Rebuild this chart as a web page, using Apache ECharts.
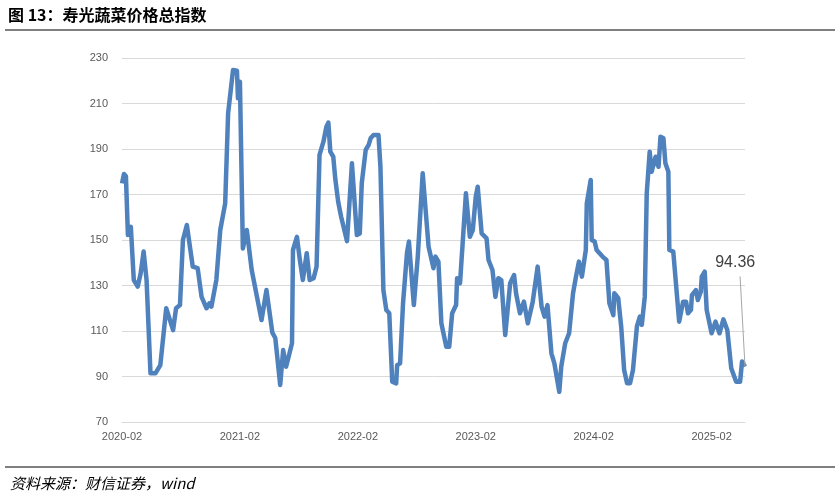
<!DOCTYPE html>
<html><head><meta charset="utf-8">
<script src="https://cdn.jsdelivr.net/npm/echarts@6/dist/echarts.min.js"></script>
<style>html,body{margin:0;padding:0;background:#fff}#c{width:840px;height:498px}</style>
</head><body><div id="c"></div>
<script>
// x = months since 2020-02
const months = [0,0.2,0.4,0.6,0.9,1.2,1.6,1.9,2.2,2.5,2.9,3.4,3.9,4.0,4.5,5.2,5.5,5.9,6.2,6.6,7.2,7.7,8.1,8.6,8.9,9.1,9.6,10.0,10.5,10.8,11.3,11.7,11.8,12.0,12.3,12.7,13.2,13.4,14.2,14.7,15.3,15.6,16.1,16.4,16.7,17.3,17.4,17.8,18.1,18.4,18.8,19.1,19.5,19.8,20.1,20.5,20.8,21.0,21.2,21.5,21.7,22.0,22.3,22.5,22.9,23.0,23.4,23.9,24.2,24.4,24.8,25.1,25.3,25.6,26.1,26.3,26.6,26.9,27.2,27.5,27.9,28.0,28.3,28.6,29.0,29.2,29.7,30.1,30.6,30.8,31.2,31.7,31.9,32.2,32.5,33.0,33.3,33.6,34.0,34.1,34.4,35.0,35.4,35.7,36.0,36.2,36.6,37.1,37.3,37.7,38.0,38.3,38.6,39.0,39.2,39.5,39.9,40.1,40.5,40.9,41.3,41.8,42.3,42.7,43.0,43.3,43.7,44.0,44.5,44.7,45.1,45.5,45.9,46.2,46.5,46.8,47.2,47.3,47.7,47.8,48.1,48.3,48.5,48.9,49.3,49.6,50.0,50.1,50.5,50.8,51.1,51.4,51.7,52.0,52.4,52.7,52.9,53.2,53.4,53.7,53.9,54.3,54.6,54.8,55.1,55.3,55.6,55.7,56.1,56.7,57.1,57.4,57.6,57.9,58.0,58.4,58.6,58.9,59.0,59.3,59.5,60.0,60.4,60.8,61.2,61.6,62.0,62.5,62.9,63.1,63.4];
const values = [174.9,179,178,152.2,155.8,132.4,129.5,135.4,144.9,132.4,91.4,91.4,95,95.8,120,110.4,120,121.4,150,156.6,138.3,137.6,125,120,122.2,120.7,132.4,154.4,166.1,205.7,224.7,224.4,212.3,219.6,146.3,154.4,136.8,136.1,114.8,128,109.3,106.9,86.3,101.6,94.3,104.6,145.6,151.4,141.2,132.4,144.2,132.4,133.2,138.3,187.4,193.2,199.8,201.6,188.8,186.6,177.1,166.8,160.2,159.5,149.5,148.7,183.7,152.2,152.9,174.9,189.6,191.8,194.7,196.2,196.2,182.2,128,119.2,117.8,87.7,87,95,95.8,122.2,144.2,149.3,121.4,142.7,179.3,179.3,147,137.6,142.7,140.5,113.4,103.1,103.1,117.8,121.4,133.2,131,170.5,151.4,154.4,169,173.4,152.9,150.7,141.2,136.8,125,133.2,132.4,108.2,108.2,131,134.6,126.6,117.8,122.9,113.4,122.9,138.3,120.7,116.3,121.4,100.2,95.8,83.3,94.3,104.6,109,126.6,133.9,140.5,133.9,145.6,166.1,176.4,150,149.3,145.6,146.3,142.7,141.2,122.2,117,126.6,124.4,112,92.9,87,87,92.9,112,116.3,112.7,125,170.5,188.8,180,186.6,182.2,195.4,194.7,183.7,180,145.6,144.9,114.1,122.9,122.9,117.8,119.3,125.8,128,123.6,127.3,133.9,136.1,119.3,109,114.1,109,115.1,110.4,93.6,87.7,87.7,96.6,94.36];
const xTickLabels = ['2020-02','2021-02','2022-02','2023-02','2024-02','2025-02'];
const lastValue = 94.36;

const data = months.map((m,i)=>[m, values[i]]);
const chart = echarts.init(document.getElementById('c'));
chart.setOption({
  animation:false,
  grid:{left:122,right:95,top:58,bottom:76},
  xAxis:{type:'value',min:0,max:63.4,interval:12,
    axisLine:{show:true,lineStyle:{color:'#d9d9d9'}},axisTick:{show:false},splitLine:{show:false},
    axisLabel:{color:'#595959',fontSize:11,fontFamily:'Liberation Sans',margin:9,showMaxLabel:false,
      formatter:v=>xTickLabels[Math.round(v/12)]||''}},
  yAxis:{type:'value',min:70,max:230,interval:20,
    axisLine:{show:false},axisTick:{show:false},
    splitLine:{lineStyle:{color:'#d9d9d9',width:1}},
    axisLabel:{color:'#595959',fontSize:11,fontFamily:'Liberation Sans',margin:14}},
  series:[{type:'line',data:data,symbol:'none',smooth:false,
    lineStyle:{color:'#4f81bd',width:4.5,join:'round'},
    markLine:{silent:true,symbol:['none','none'],
      lineStyle:{color:'#a6a6a6',width:1,type:'solid'},
      label:{show:false},
      data:[[{coord:[62.9,134]},{coord:[63.4,lastValue]}]]},
    markPoint:{symbol:'circle',symbolSize:0,
      label:{show:true,formatter:String(lastValue),color:'#404040',fontSize:16,fontFamily:'Liberation Sans',offset:[0,0]},
      data:[{coord:[62.4,140]}]}
  }],
  graphic:[
    {type:'text',left:8,top:7,style:{text:'图 13：寿光蔬菜价格总指数',font:'bold 16px "Noto Sans CJK SC", serif',fill:'#000'}},
    {type:'line',shape:{x1:5,y1:30,x2:835,y2:30},style:{stroke:'#000',lineWidth:1.2}},
    {type:'line',shape:{x1:5,y1:467,x2:835,y2:467},style:{stroke:'#000',lineWidth:1}},
    {type:'text',left:10,top:476,style:{text:'资料来源：财信证券，wind',font:'italic 15px "Noto Sans CJK SC", serif',fill:'#000'}}
  ]
});
</script></body></html>
